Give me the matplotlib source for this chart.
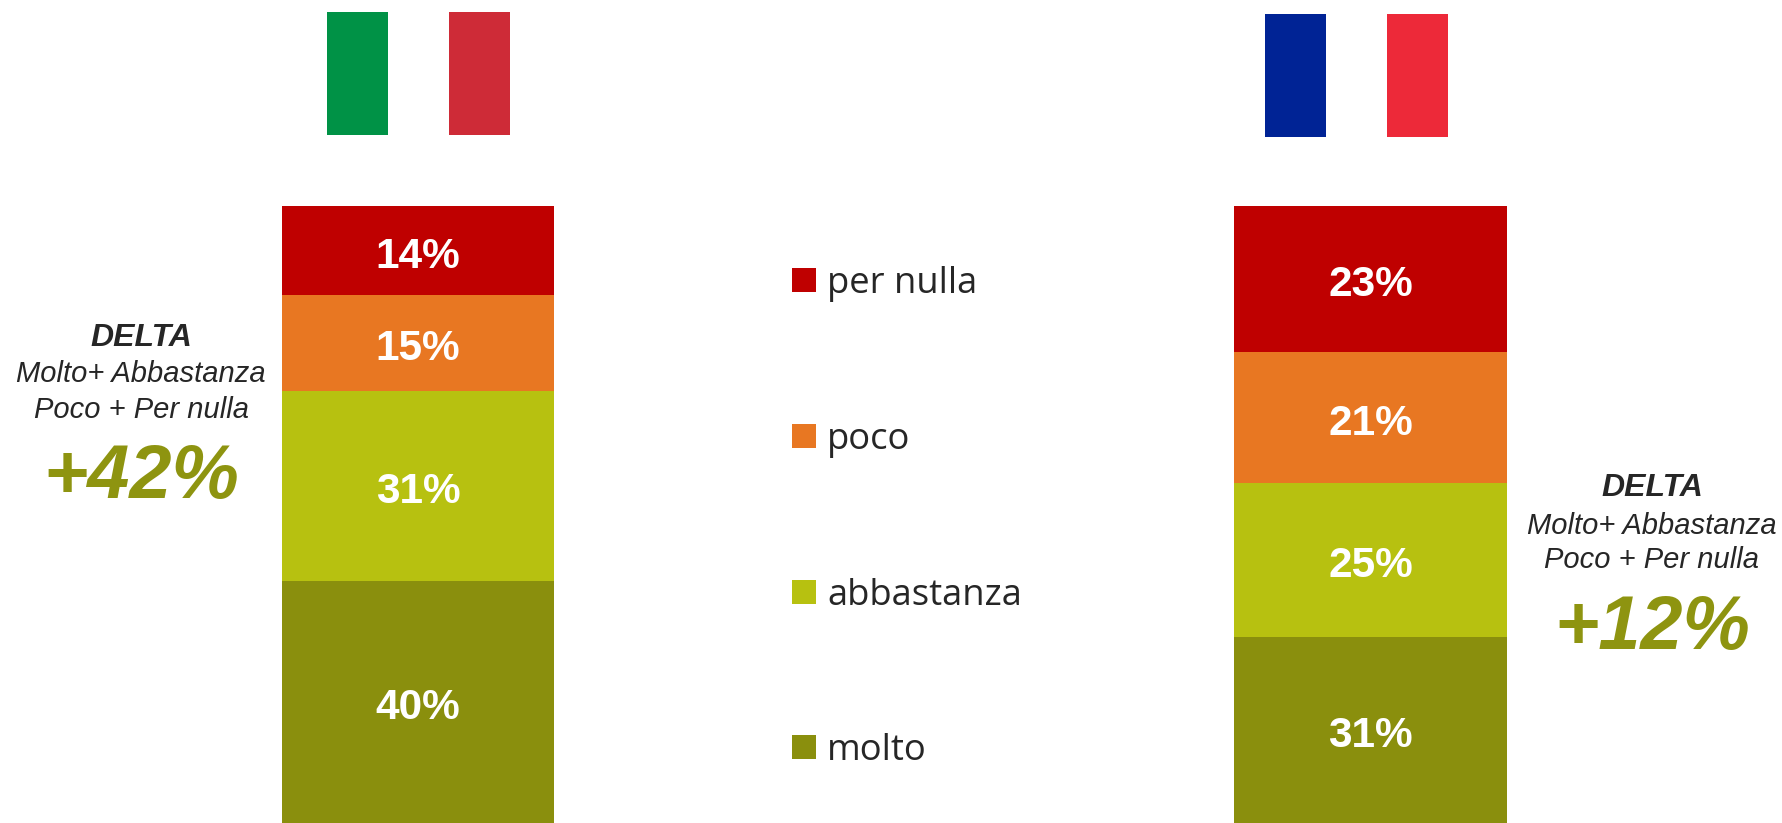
import matplotlib

matplotlib.use("Agg")
import matplotlib.pyplot as plt
import matplotlib.patches as patches

W, H = 1782, 823

# order is bottom to top of the stack
categories = ["molto", "abbastanza", "poco", "per nulla"]
colors = ["#8A8F0D", "#B7C110", "#E87722", "#BF0000"]

# segment heights as they appear in the picture (the bars are cut at the bottom)
italy_heights = [39.2, 30.8, 15.5, 14.5]
france_heights = [30.2, 24.9, 21.2, 23.7]
italy_labels = [40, 31, 15, 14]
france_labels = [31, 25, 21, 23]
italy_delta = "+42%"
france_delta = "+12%"

TEXT = "#262626"
OLIVE = "#8E9410"

fig = plt.figure(figsize=(W / 100, H / 100), dpi=100, facecolor="white")


def px_text(x, y, s, **kw):
    fig.text(x / W, 1 - y / H, s, ha=kw.pop("ha", "center"), va=kw.pop("va", "center"), **kw)


def px_rect(x0, y0, x1, y1, color):
    fig.add_artist(
        patches.Rectangle(
            (x0 / W, 1 - y1 / H),
            (x1 - x0) / W,
            (y1 - y0) / H,
            transform=fig.transFigure,
            facecolor=color,
            edgecolor="none",
        )
    )


def stacked_bar(x0, x1, heights, labels):
    ax = fig.add_axes([x0 / W, 0, (x1 - x0) / W, 617 / H])
    ax.set_xlim(0, 1)
    ax.set_ylim(0, 100)
    ax.axis("off")
    bottom = 0
    for h, lab, c in zip(heights, labels, colors):
        ax.bar(0.5, h, width=1, bottom=bottom, color=c, linewidth=0)
        ax.text(
            0.5,
            bottom + h / 2 - 1.0,
            f"{lab}%",
            ha="center",
            va="center",
            color="white",
            fontsize=30.5,
            fontweight="bold",
            family="Liberation Sans",
        )
        bottom += h


def delta_block(cx, y_top, value):
    px_text(cx, y_top, "DELTA", fontsize=23, fontweight="bold", style="italic",
            color=TEXT, family="Liberation Sans")
    px_text(cx, y_top + 37, "Molto+ Abbastanza", fontsize=21, style="italic",
            color=TEXT, family="Liberation Sans")
    px_text(cx, y_top + 72, "Poco + Per nulla", fontsize=21, style="italic",
            color=TEXT, family="Liberation Sans")
    px_text(cx, y_top + 141, value, fontsize=54.5, fontweight="bold", style="italic",
            color=OLIVE, family="Liberation Sans")


stacked_bar(282, 554, italy_heights, italy_labels)
stacked_bar(1234, 1507, france_heights, france_labels)

# flags
px_rect(327, 12, 388, 135, "#009246")
px_rect(449, 12, 510, 135, "#CE2B37")
px_rect(1265, 14, 1326, 137, "#002395")
px_rect(1387, 14, 1448, 137, "#ED2939")

delta_block(141, 337.5, italy_delta)
delta_block(1652, 488.5, france_delta)

# legend
legend_y = [747, 592, 436, 280]
for cat, c, y in zip(categories, colors, legend_y):
    px_rect(792, y - 12, 816, y + 12, c)
    px_text(827, y + 13, cat, ha="left", va="baseline", fontsize=26.2, color=TEXT, family="Open Sans")

fig.savefig("out.png", dpi=100)
